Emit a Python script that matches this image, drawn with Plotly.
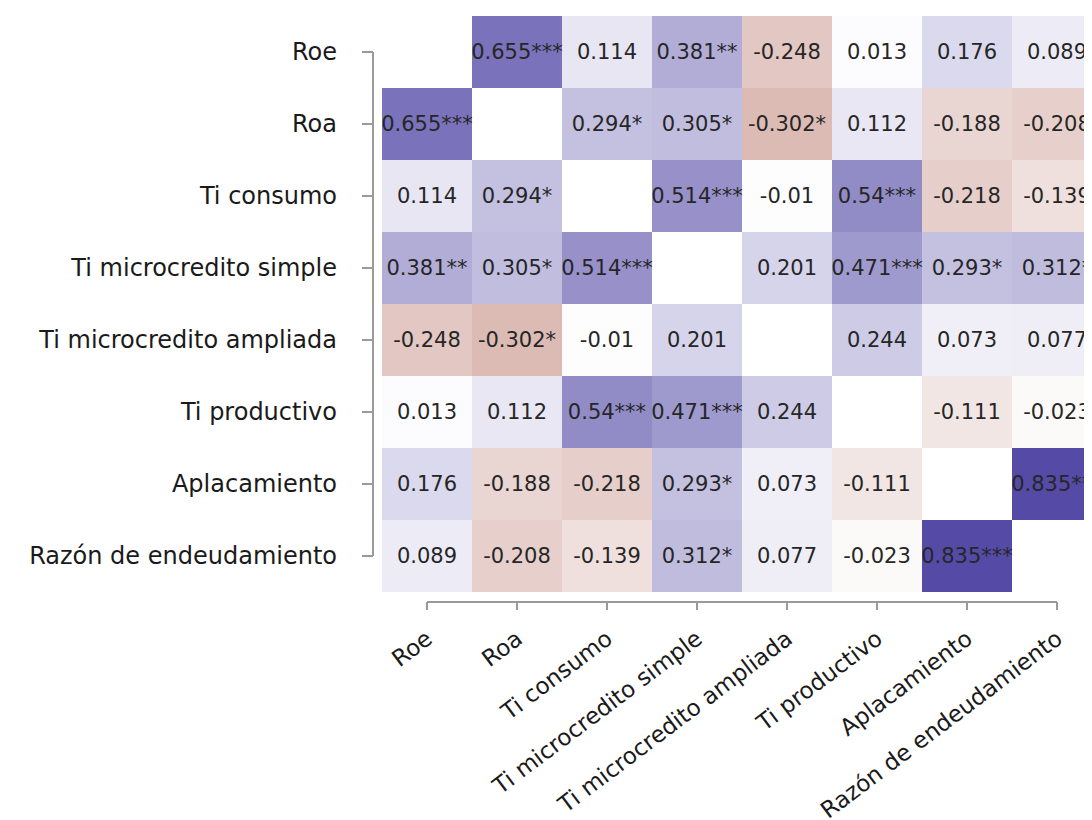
import plotly.graph_objects as go

labels = ["Roe", "Roa", "Ti consumo", "Ti microcredito simple",
          "Ti microcredito ampliada", "Ti productivo", "Aplacamiento",
          "Razón de endeudamiento"]

# correlation matrix (diagonal blank)
corr = [
    [None, 0.655, 0.114, 0.381, -0.248, 0.013, 0.176, 0.089],
    [0.655, None, 0.294, 0.305, -0.302, 0.112, -0.188, -0.208],
    [0.114, 0.294, None, 0.514, -0.01, 0.54, -0.218, -0.139],
    [0.381, 0.305, 0.514, None, 0.201, 0.471, 0.293, 0.312],
    [-0.248, -0.302, -0.01, 0.201, None, 0.244, 0.073, 0.077],
    [0.013, 0.112, 0.54, 0.471, 0.244, None, -0.111, -0.023],
    [0.176, -0.188, -0.218, 0.293, 0.073, -0.111, None, 0.835],
    [0.089, -0.208, -0.139, 0.312, 0.077, -0.023, 0.835, None],
]

stars = [
    ["", "***", "", "**", "", "", "", ""],
    ["***", "", "*", "*", "*", "", "", ""],
    ["", "*", "", "***", "", "***", "", ""],
    ["**", "*", "***", "", "", "***", "*", "*"],
    ["", "*", "", "", "", "", "", ""],
    ["", "", "***", "***", "", "", "", ""],
    ["", "", "", "*", "", "", "", "***"],
    ["", "", "", "*", "", "", "***", ""],
]

text = [["" if v is None else f"{v}{s}" for v, s in zip(rv, rs)]
        for rv, rs in zip(corr, stars)]

# page body has an 8px default margin, compensate in figure margins
W, H = 1092, 820
ml, mr, mt = 374, 0, 8
cell_w, cell_h = 90, 72
n = len(labels)
pw = W - ml - mr
ph = cell_h * n
mb = H - mt - ph
xmax = -0.5 + pw / cell_w

FONT = "DejaVu Sans, Verdana, sans-serif"

fig = go.Figure(go.Heatmap(
    z=corr, x=labels, y=labels, text=text, texttemplate="%{text}",
    textfont=dict(family=FONT, size=21, color="#262626"),
    colorscale=[[0.0, "rgb(140,30,10)"], [0.5, "rgb(255,255,255)"],
                [1.0, "rgb(52,40,150)"]],
    zmin=-1, zmax=1, showscale=False, xgap=0, ygap=0, hoverinfo="skip",
))

# range-frame axes (gray lines + ticks) in paper coordinates
line_col = "#9a9a9a"
shapes = []
xp = lambda i: (i + 0.5) / (xmax + 0.5)
yp = lambda i: 1 - (i + 0.5) / n
ax_y = -10 / ph
tick_y = -18 / ph
shapes.append(dict(type="line", xref="paper", yref="paper", x0=xp(0), x1=xp(n - 1),
                   y0=ax_y, y1=ax_y, line=dict(color=line_col, width=2)))
for i in range(n):
    shapes.append(dict(type="line", xref="paper", yref="paper", x0=xp(i), x1=xp(i),
                       y0=ax_y, y1=tick_y, line=dict(color=line_col, width=2)))
ax_x = -9 / pw
tick_x = -20 / pw
shapes.append(dict(type="line", xref="paper", yref="paper", x0=ax_x, x1=ax_x,
                   y0=yp(0), y1=yp(n - 1), line=dict(color=line_col, width=2)))
for i in range(n):
    shapes.append(dict(type="line", xref="paper", yref="paper", x0=ax_x, x1=tick_x,
                       y0=yp(i), y1=yp(i), line=dict(color=line_col, width=2)))

fig.update_layout(
    width=W, height=H,
    margin=dict(l=ml, r=mr, t=mt, b=mb, pad=0, autoexpand=False),
    paper_bgcolor="white", plot_bgcolor="white",
    shapes=shapes,
    xaxis=dict(range=[-0.5, xmax], showgrid=False, zeroline=False, showline=False,
               ticks="", tickangle=-37, ticklabelstandoff=28, automargin=False,
               tickfont=dict(family=FONT, size=23, color="#1a1a1a")),
    yaxis=dict(range=[n - 0.5, -0.5], showgrid=False, zeroline=False, showline=False,
               ticks="", ticklabelstandoff=44, automargin=False,
               tickfont=dict(family=FONT, size=24, color="#1a1a1a")),
)

fig.write_html("out.html")
